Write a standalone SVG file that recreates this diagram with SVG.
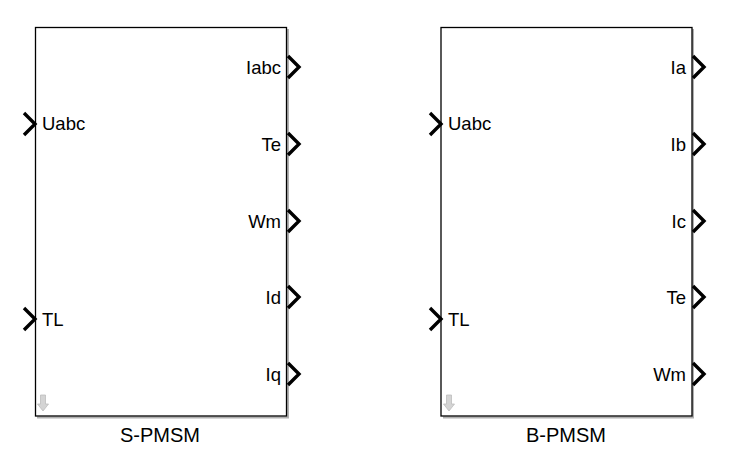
<svg xmlns="http://www.w3.org/2000/svg" width="730" height="457" viewBox="0 0 730 457">
<style>
.box{fill:#fff;stroke:#000;stroke-width:1.3}
.shadow{fill:none;stroke:#b0b0b0;stroke-width:2}
.port{fill:none;stroke:#000;stroke-width:3.4;stroke-linejoin:miter;stroke-linecap:butt}
.lbl{font-family:"Liberation Sans",Arial,sans-serif;font-size:18.5px;fill:#000}
.ttl{font-family:"Liberation Sans",Arial,sans-serif;font-size:20px;fill:#000;text-anchor:middle}
.r{text-anchor:end}
.dn{fill:#d4d4d4;stroke:#bdbdbd;stroke-width:0.8}
</style>
<defs>
<path id="pin" class="port" d="M-11,-11 L0,0 L-11,11"/>
<path id="pout" class="port" d="M1,-11 L12,0 L1,11"/>
<path id="darr" class="dn" d="M-2.5,-9 L2.5,-9 L2.5,0 L5.5,0 L0,7 L-5.5,0 L-2.5,0 Z"/>
</defs>
<g id="connectors"></g>
<g id="spmsm">
<polyline class="shadow" points="288,29 288,417.5 37,417.5"/>
<rect class="box" x="35.5" y="27.5" width="251" height="388.5"/>
<use href="#pin" x="35" y="124"/>
<use href="#pin" x="35" y="319"/>
<text class="lbl" x="42" y="130">Uabc</text>
<text class="lbl" x="42" y="326">TL</text>
<use href="#pout" x="287" y="67"/>
<use href="#pout" x="287" y="144"/>
<use href="#pout" x="287" y="221"/>
<use href="#pout" x="287" y="297"/>
<use href="#pout" x="287" y="374"/>
<text class="lbl r" x="281" y="74">Iabc</text>
<text class="lbl r" x="281" y="151">Te</text>
<text class="lbl r" x="281" y="228">Wm</text>
<text class="lbl r" x="281" y="304">Id</text>
<text class="lbl r" x="281" y="381">Iq</text>
<use href="#darr" x="43" y="404"/>
<text class="ttl" x="160" y="442">S-PMSM</text>
</g>
<g id="bpmsm">
<polyline class="shadow" points="693,29 693,417.5 443,417.5"/>
<rect class="box" x="441" y="27.5" width="251" height="388.5"/>
<use href="#pin" x="441" y="124"/>
<use href="#pin" x="441" y="319"/>
<text class="lbl" x="448" y="130">Uabc</text>
<text class="lbl" x="448" y="326">TL</text>
<use href="#pout" x="692" y="67"/>
<use href="#pout" x="692" y="144"/>
<use href="#pout" x="692" y="221"/>
<use href="#pout" x="692" y="297"/>
<use href="#pout" x="692" y="374"/>
<text class="lbl r" x="686" y="74">Ia</text>
<text class="lbl r" x="686" y="151">Ib</text>
<text class="lbl r" x="686" y="228">Ic</text>
<text class="lbl r" x="686" y="304">Te</text>
<text class="lbl r" x="686" y="381">Wm</text>
<use href="#darr" x="449" y="404"/>
<text class="ttl" x="566" y="442">B-PMSM</text>
</g>
</svg>
